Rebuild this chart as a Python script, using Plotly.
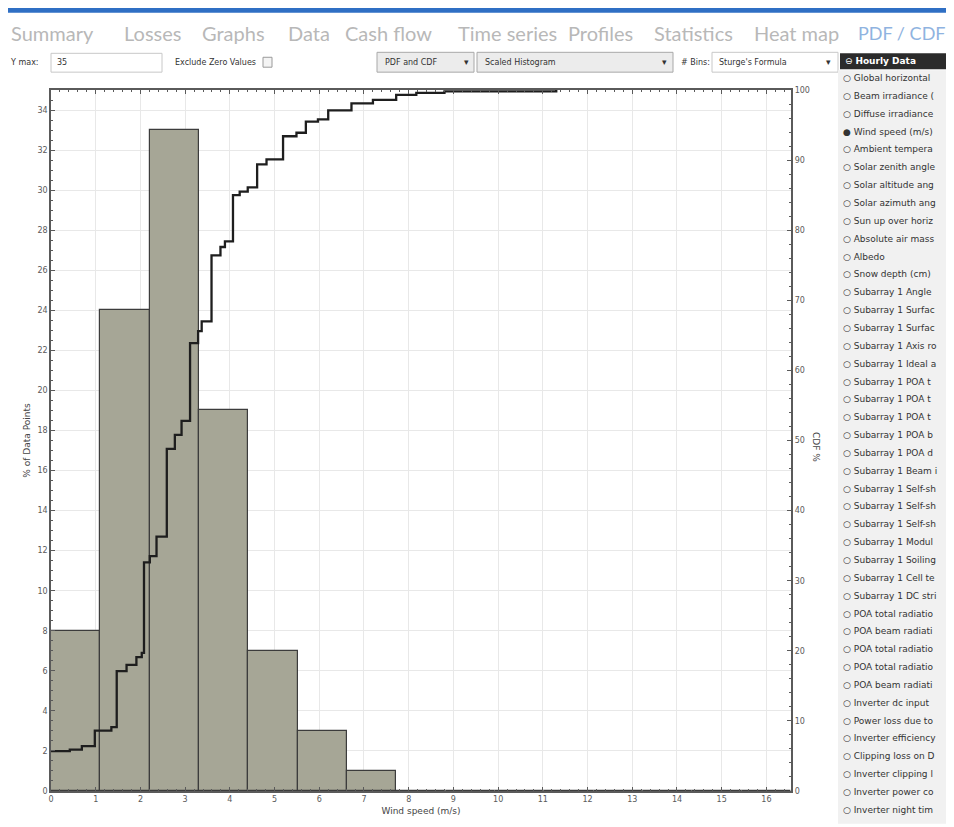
import plotly.graph_objects as go

# histogram of hourly wind speed, Sturges' formula -> 15 bins
bin_start = [0, 1.103, 2.207, 3.31, 4.413, 5.517, 6.62, 7.723, 8.827, 9.93,
             11.033, 12.137, 13.24, 14.343, 15.447]
bin_width = 1.103
pct_points = [8, 24, 33, 19, 7, 3, 1, 0, 0, 0, 0, 0, 0, 0, 0]

# cumulative distribution (step line, right axis)
cdf_x = [0, 0.42, 0.69, 0.98, 1.35, 1.47, 1.69, 1.91, 2.03, 2.08, 2.21, 2.36,
         2.59, 2.77, 2.92, 3.11, 3.29, 3.37, 3.59, 3.79, 3.89, 4.07, 4.22,
         4.40, 4.61, 4.82, 5.19, 5.49, 5.70, 5.97, 6.20, 6.72, 7.20, 7.72,
         8.17, 8.80, 11.3]
cdf_y = [5.7, 5.9, 6.4, 8.6, 9.1, 17.1, 18.0, 19.1, 19.7, 32.6, 33.5, 36.3,
         48.8, 50.8, 52.8, 63.9, 65.6, 67.0, 76.4, 77.6, 78.4, 85.0, 85.5,
         86.1, 89.4, 90.1, 93.4, 93.9, 95.5, 95.8, 97.1, 98.1, 98.6, 99.3,
         99.6, 99.8, 100]

tabs = ["Summary", "Losses", "Graphs", "Data", "Cash flow", "Time series",
        "Profiles", "Statistics", "Heat map", "PDF / CDF"]
tab_x = [9, 122, 200, 286, 343, 456, 566, 652, 752, 856]

hourly_vars = [
    "Global horizontal", "Beam irradiance (", "Diffuse irradiance", "Wind speed (m/s)",
    "Ambient tempera", "Solar zenith angle", "Solar altitude ang", "Solar azimuth ang",
    "Sun up over horiz", "Absolute air mass", "Albedo", "Snow depth (cm)",
    "Subarray 1 Angle", "Subarray 1 Surfac", "Subarray 1 Surfac", "Subarray 1 Axis ro",
    "Subarray 1 Ideal a", "Subarray 1 POA t", "Subarray 1 POA t", "Subarray 1 POA t",
    "Subarray 1 POA b", "Subarray 1 POA d", "Subarray 1 Beam i", "Subarray 1 Self-sh",
    "Subarray 1 Self-sh", "Subarray 1 Self-sh", "Subarray 1 Modul", "Subarray 1 Soiling",
    "Subarray 1 Cell te", "Subarray 1 DC stri", "POA total radiatio", "POA beam radiati",
    "POA total radiatio", "POA total radiatio", "POA beam radiati", "Inverter dc input",
    "Power loss due to", "Inverter efficiency", "Clipping loss on D", "Inverter clipping l",
    "Inverter power co", "Inverter night tim",
]
selected_var = "Wind speed (m/s)"

# page has an 8px body margin, so the figure is drawn 8px smaller
OFF = 8
W, H = 954 - OFF, 827 - OFF
# plot area in page pixels
L, R, T, B = 51, 791, 90, 797


def px(x):
    return (x - L) / (R - L)


def py(y):
    return (B - y) / (B - T)


FONT = "DejaVu Sans"

fig = go.Figure()
fig.add_trace(go.Bar(
    x=bin_start, y=pct_points, width=bin_width, offset=0,
    marker=dict(color="#a6a696", line=dict(color="#3c3c3c", width=1.2)),
    hoverinfo="x+y",
))
fig.add_trace(go.Scatter(
    x=cdf_x, y=cdf_y, yaxis="y2", mode="lines", line_shape="hv",
    line=dict(color="#1e1e1e", width=2.3),
))

axis_common = dict(
    showline=True, linecolor="#5a5a5a", linewidth=1.5,
    ticks="inside", ticklen=4, tickcolor="#5a5a5a",
    tickfont=dict(family=FONT, size=8, color="#5a5a5a"),
    zeroline=False,
)

fig.update_layout(
    width=W, height=H,
    margin=dict(l=L - OFF, r=W - (R - OFF), t=T - OFF, b=H - (B - OFF)),
    paper_bgcolor="white", plot_bgcolor="white",
    showlegend=False, bargap=0,
    font=dict(family=FONT, size=9, color="#333333"),
    xaxis=dict(
        range=[0, 16.55], dtick=1, mirror="ticks",
        showgrid=True, gridcolor="#e8e8e8", gridwidth=1,
        minor=dict(dtick=0.2, ticks="inside", ticklen=2, tickcolor="#5a5a5a"),
        title=dict(text="Wind speed (m/s)", font=dict(family=FONT, size=9, color="#444"),
                   standoff=4),
        **axis_common,
    ),
    yaxis=dict(
        range=[0, 35], dtick=2,
        showgrid=True, gridcolor="#e8e8e8", gridwidth=1,
        minor=dict(dtick=0.5, ticks="inside", ticklen=2, tickcolor="#5a5a5a"),
        title=dict(text="% of Data Points", font=dict(family=FONT, size=9, color="#444"),
                   standoff=5),
        **axis_common,
    ),
    yaxis2=dict(
        range=[0, 100], dtick=10, overlaying="y", side="right",
        showgrid=False,
        minor=dict(dtick=2, ticks="inside", ticklen=2, tickcolor="#5a5a5a"),
        **axis_common,
    ),
)
fig.update_layout(yaxis2_linewidth=2.2)

shapes = []
ann = []


def rect(x0, y0, x1, y1, fill, line="#a0a0a0", lw=1):
    shapes.append(dict(type="rect", xref="paper", yref="paper",
                       x0=px(x0), x1=px(x1), y0=py(y1), y1=py(y0),
                       fillcolor=fill, line=dict(color=line, width=lw), layer="below"))


def text(x, y, s, size=9, color="#333333", anchor="left", **kw):
    ann.append(dict(xref="paper", yref="paper", x=px(x), y=py(y), text=s,
                    showarrow=False, xanchor=anchor, yanchor="middle",
                    font=dict(family=kw.pop("family", FONT), size=size, color=color), **kw))


# top blue bar
rect(0, 7, 960, 12, "#2f6fc4", line="#2f6fc4", lw=0)

# tabs
for name, x in zip(tabs, tab_x):
    active = name == "PDF / CDF"
    text(x, 33, name, size=18 if active else 20,
         color="#8fb3e0" if active else "#b8b8b8", family="Lato")

# control row
text(8, 62, "Y max:", size=8)
rect(51, 53, 162, 72, "white", line="#c8c8c8")
text(55, 62, "35", size=8)
text(173, 62, "Exclude Zero Values", size=8)
rect(263, 57, 272, 67, "#f4f4f4", line="#9a9a9a")
rect(377, 52, 474, 72, "#ececec", line="#a8a8a8")
text(383, 62, "PDF and CDF", size=8)
text(466, 62, "▾", size=9, anchor="center")
rect(477, 52, 673, 72, "#ececec", line="#a8a8a8")
text(483, 62, "Scaled Histogram", size=8)
text(664, 62, "▾", size=9, anchor="center")
text(679, 62, "# Bins:", size=8)
rect(712, 52, 838, 72, "white", line="#c8c8c8")
text(717, 62, "Sturge's Formula", size=8)
text(829, 62, "▾", size=9, anchor="center")

# right data panel
rect(838, 70, 960, 830, "#f1f1f1", line="#f1f1f1", lw=0)
rect(840, 53, 960, 69, "#2b2b2b", line="#2b2b2b", lw=0)
text(843, 61, "⊖ <b>Hourly Data</b>", size=9, color="white")
for i, name in enumerate(hourly_vars):
    mark = "●" if name == selected_var else "○"
    text(841, 78 + i * 18.0, mark + " " + name, size=9, color="#333333")

# right axis title (reads top to bottom)
text(816, 450, "CDF %", size=9, color="#444", anchor="center", textangle=90)

fig.update_layout(shapes=shapes, annotations=ann)

fig.write_html("out.html")
